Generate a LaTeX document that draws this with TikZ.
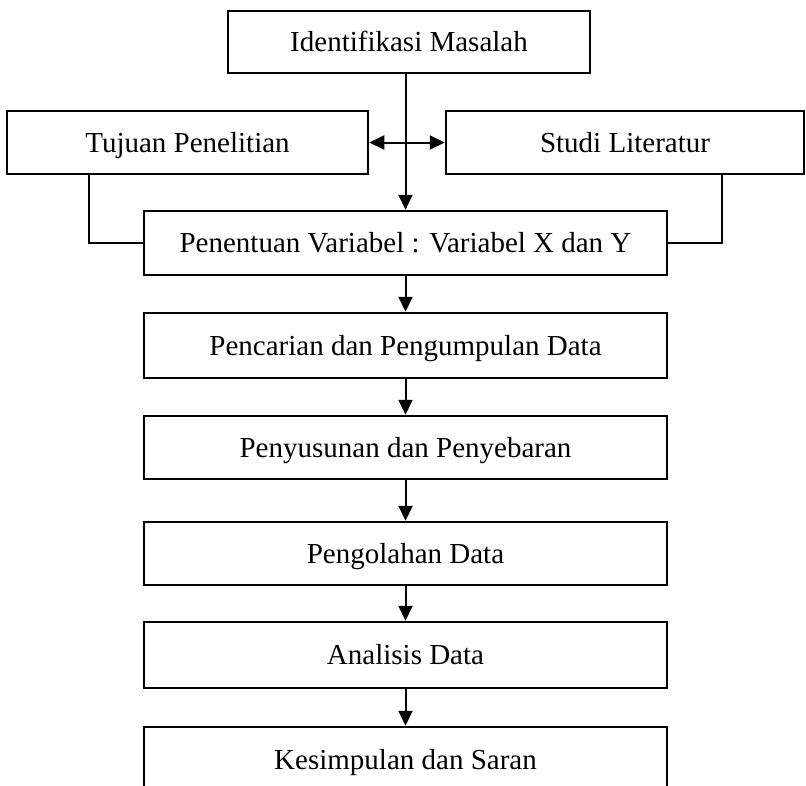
\documentclass[tikz,border=0pt]{standalone}
\usepackage{fontspec}
\setmainfont{Liberation Serif}
\usepackage{tikz}
\usetikzlibrary{arrows.meta}

\begin{document}
\begin{tikzpicture}[x=1pt, y=1pt, >={Triangle[length=15pt,width=14pt]},
		kotak/.style={draw, line width=2.5pt, inner sep=0pt, text height=19pt, text depth=0pt, font=\fontsize{29}{34}\selectfont},
		garis/.style={line width=2pt}]
		\useasboundingbox (0,0) rectangle (806,-785);
		\clip (0,0) rectangle (806,-785);
		\node[kotak, minimum width=362, minimum height=62] (ident) at (409,-42) {Identifikasi Masalah};
		\node[kotak, minimum width=361, minimum height=63] (tujuan) at (187.5,-142.5) {Tujuan Penelitian};
		\node[kotak, minimum width=358, minimum height=63] (studi) at (625,-142.5) {Studi Literatur};
		\node[kotak, minimum width=523, minimum height=64] (tentu) at (405.5,-243) {Penentuan Variabel : Variabel X dan Y};
		\node[kotak, minimum width=523, minimum height=65] (cari) at (405.5,-345.5) {Pencarian dan Pengumpulan Data};
		\node[kotak, minimum width=523, minimum height=63] (susun) at (405.5,-447.5) {Penyusunan dan Penyebaran};
		\node[kotak, minimum width=523, minimum height=63] (olah) at (405.5,-553.5) {Pengolahan Data};
		\node[kotak, minimum width=523, minimum height=66] (analisis) at (405.5,-655) {Analisis Data};
		\node[kotak, minimum width=523, minimum height=65] (simpul) at (405.5,-759.5) {Kesimpulan dan Saran};
		\draw[garis, ->] (ident.south -| tentu.north) -- (tentu.north);
		\draw[garis, <->] (tujuan.east) -- (studi.west);
		\draw[garis] ([xshift=83pt]tujuan.south west) |- (tentu.west);
		\draw[garis] ([xshift=277pt]studi.south west) |- (tentu.east);
		\foreach \a/\b in {tentu/cari, cari/susun, susun/olah, olah/analisis, analisis/simpul}
			\draw[garis, ->] (\a) -- (\b);
	\end{tikzpicture}
\end{document}
